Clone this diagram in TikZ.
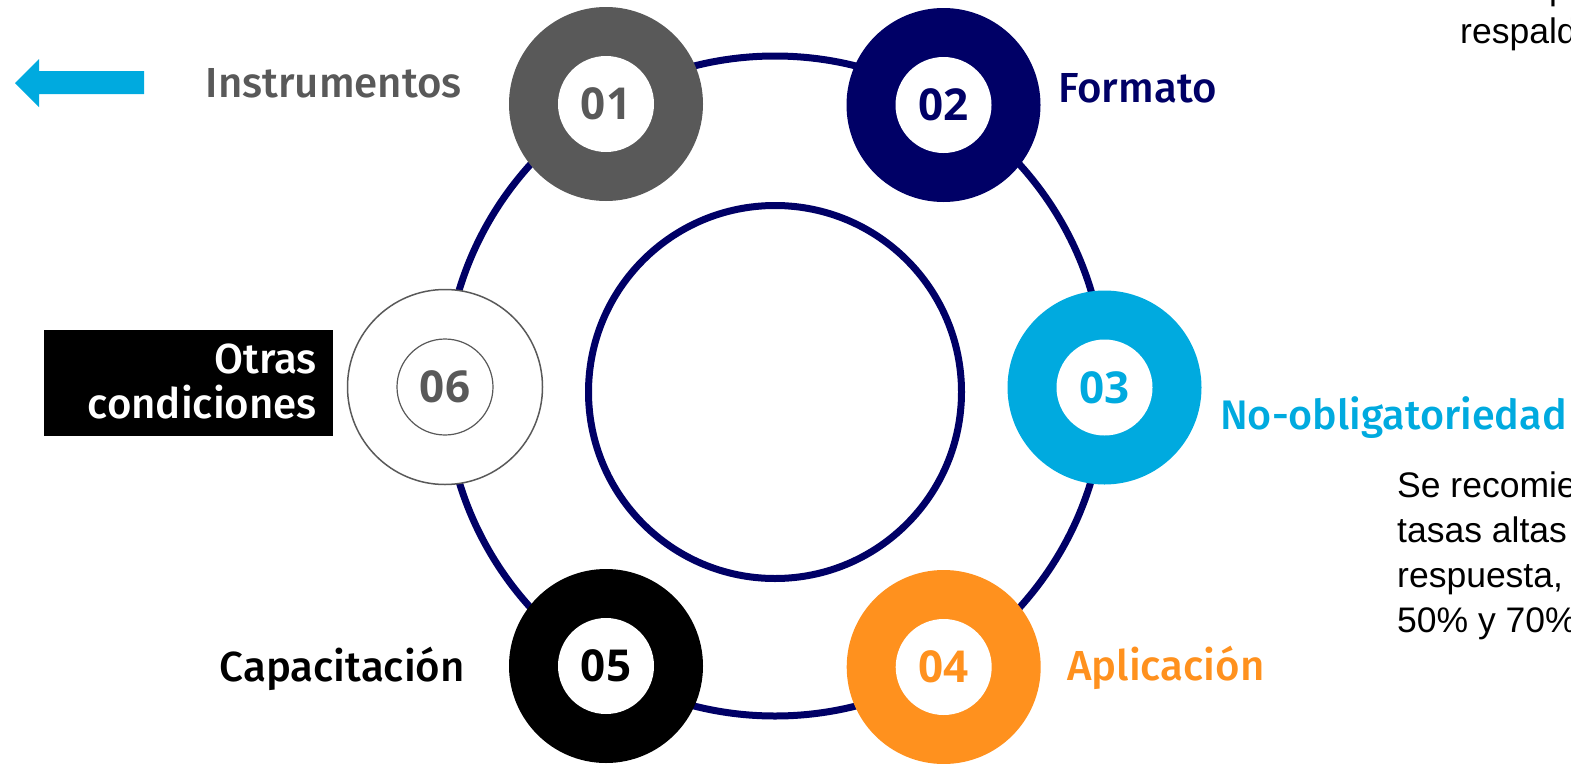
\documentclass[tikz,border=0pt]{standalone}
\usepackage{fontspec}
\newfontfamily\labfont{Fira Sans Medium}
\newfontfamily\numfont{Open Sans}
\newfontfamily\bodyfont{Liberation Sans}
\definecolor{navy}{RGB}{0,0,102}
\definecolor{cgray}{RGB}{89,89,89}
\definecolor{ccyan}{RGB}{0,170,223}
\definecolor{corange}{RGB}{255,145,30}
\tikzset{
  ring/.style={circle, fill=#1, minimum size=194pt, inner sep=0pt},
  hole/.style={circle, fill=white, minimum size=96pt, inner sep=0pt, text=#1,
    font=\numfont\bfseries\fontsize{44}{44}\selectfont},
  lab/.style={text=#1, inner sep=0pt, font=\labfont\fontsize{42}{45}\selectfont},
  body/.style={inner sep=0pt, anchor=base west, font=\bodyfont\fontsize{35.5}{40}\selectfont}
}
\begin{document}
\begin{tikzpicture}[x=1pt,y=-1pt]
\useasboundingbox (0,0) rectangle (1571,763);
% rings
\draw[navy, line width=7pt] (775,386) circle[radius=330pt];
\draw[navy, line width=7pt] (775,392) circle[radius=186.5pt];
% nodes
\node[ring=cgray] (n1) at (606,104) {};
\node[hole=cgray] (h1) at (n1) {01};
\node[ring=navy] (n2) at (943.5,105) {};
\node[hole=navy] (h2) at (n2) {02};
\node[ring=ccyan] (n3) at (1104.5,387.5) {};
\node[hole=ccyan] (h3) at (n3) {03};
\node[ring=corange] (n4) at (943.7,667) {};
\node[hole=corange] (h4) at (n4) {04};
\node[ring=black] (n5) at (606,666) {};
\node[hole=black] (h5) at (n5) {05};
\node[circle, draw=cgray, line width=1.5pt, fill=white, minimum size=195pt, inner sep=0pt] (n6) at (445,387) {};
\node[hole=cgray, draw=cgray, line width=1.2pt] (h6) at (n6) {06};
% labels
\node[lab=cgray, anchor=base east] (l1) at (462,97) {Instrumentos};
\node[lab=navy, anchor=base west] (l2) at (1058,102) {Formato};
\node[lab=ccyan, anchor=base west, font=\labfont\fontsize{41.3}{45}\selectfont] (l3) at (1220,429) {No-obligatoriedad};
\node[lab=corange, anchor=base west] (l4) at (1067,680) {Aplicación};
\node[lab=black, anchor=base east] (l5) at (465,681) {Capacitación};
\fill[black] (44,330) rectangle (333,436);
\node[lab=white, anchor=base east] (l6a) at (317,373) {Otras};
\node[lab=white, anchor=base east] (l6b) at (317,418) {condiciones};
% arrow
\fill[ccyan] (15,83) -- (39,59) -- (39,71) -- (144,71) -- (144,94) -- (39,94) -- (39,107) -- cycle;
% body text
\node[body] (t0) at (1549,-1) {p};
\node[body] (t1) at (1460,43) {respald};
\node[body] (b1) at (1397,497) {Se recomie};
\node[body] (b2) at (1397,542) {tasas altas};
\node[body] (b3) at (1397,587) {respuesta,};
\node[body] (b4) at (1397,632) {50\% y 70\%};
\end{tikzpicture}
\end{document}
